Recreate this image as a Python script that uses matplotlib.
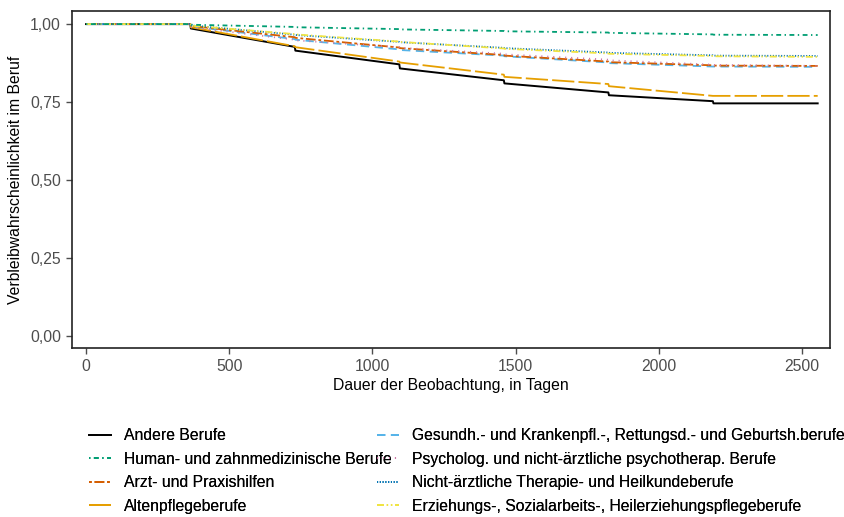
import matplotlib
matplotlib.use("Agg")
from matplotlib import pyplot as plt
from matplotlib.lines import Line2D
from matplotlib.ticker import FuncFormatter

plt.rcParams['font.family'] = ['Liberation Sans', 'DejaVu Sans']
plt.rcParams['lines.scale_dashes'] = False

# Tage (Stuetzstellen, Spruenge an Jahresgrenzen)
tage = [0, 364, 366, 729, 731, 1094, 1096, 1459, 1461, 1824, 1826, 2189, 2191, 2555]

andere = [1.0, 1.0, 0.986, 0.927, 0.915, 0.871, 0.858, 0.820, 0.810, 0.781, 0.772, 0.753, 0.746, 0.746]
human = [1.0, 1.0, 0.998, 0.991, 0.990, 0.984, 0.983, 0.978, 0.977, 0.973, 0.972, 0.967, 0.966, 0.965]
arzt = [1.0, 1.0, 0.994, 0.958, 0.956, 0.925, 0.923, 0.901, 0.899, 0.880, 0.878, 0.868, 0.867, 0.866]
alten = [1.0, 1.0, 0.990, 0.929, 0.926, 0.880, 0.877, 0.838, 0.831, 0.808, 0.801, 0.770, 0.770, 0.770]
gesundh = [1.0, 1.0, 0.993, 0.952, 0.950, 0.919, 0.917, 0.899, 0.897, 0.877, 0.875, 0.864, 0.864, 0.863]
psycho = [1.0, 1.0, 0.990, 0.950, 0.948, 0.926, 0.924, 0.905, 0.903, 0.886, 0.884, 0.870, 0.869, 0.866]
therapie = [1.0, 1.0, 0.996, 0.966, 0.965, 0.943, 0.942, 0.924, 0.923, 0.909, 0.908, 0.900, 0.899, 0.898]
erzieh = [1.0, 1.0, 0.995, 0.968, 0.967, 0.944, 0.943, 0.922, 0.921, 0.906, 0.905, 0.898, 0.897, 0.895]

namen = ["Andere Berufe", "Human- und zahnmedizinische Berufe", "Arzt- und Praxishilfen",
         "Altenpflegeberufe", "Gesundh.- und Krankenpfl.-, Rettungsd.- und Geburtsh.berufe",
         "Psycholog. und nicht-ärztliche psychotherap. Berufe",
         "Nicht-ärztliche Therapie- und Heilkundeberufe",
         "Erziehungs-, Sozialarbeits-, Heilerziehungspflegeberufe"]
werte = [andere, human, arzt, alten, gesundh, psycho, therapie, erzieh]
farben = ["#000000", "#009E73", "#D55E00", "#E69F00", "#56B4E9", "#CC79A7", "#0072B2", "#F0E442"]
stile = ["-", (0, (1, 2.5, 3.5, 2.5)), (0, (2, 2, 7, 2)), (0, (16, 3)),
         (0, (6, 4)), (0, (0.8, 3.5)), (0, (0.8, 1.2)), (0, (5, 2, 1, 2, 1, 2))]

fs = 11.3

fig = plt.figure(figsize=(8.44, 5.17), dpi=100)
ax = fig.add_axes([72 / 844, 1 - 348 / 517, (830 - 72) / 844, (348 - 11) / 517])

# von hinten nach vorne zeichnen
for i in [0, 3, 4, 2, 5, 6, 7, 1]:
    ax.plot(tage, werte[i], color=farben[i], linestyle=stile[i], lw=1.4 if i == 0 else 1.3)

ax.set_xlim(-49, 2598)
ax.set_ylim(-0.038, 1.042)
ax.set_xticks([0, 500, 1000, 1500, 2000, 2500])
ax.set_yticks([0, 0.25, 0.5, 0.75, 1.0])
ax.yaxis.set_major_formatter(FuncFormatter(lambda v, p: f"{v:.2f}".replace(".", ",")))
ax.tick_params(axis="both", labelsize=fs, colors="#4D4D4D", length=4, width=1, pad=4)
for s in ax.spines.values():
    s.set_linewidth(1.2)
    s.set_color("#222222")

ax.set_xlabel("Dauer der Beobachtung, in Tagen", fontsize=fs, labelpad=3)
ax.set_ylabel("Verbleibwahrscheinlichkeit im Beruf", fontsize=fs, labelpad=5)

griffe = [Line2D([], [], color=farben[i], linestyle=stile[i], lw=1.3) for i in range(8)]
for spalte, x0 in [(range(0, 4), 89 / 844), (range(4, 8), 377 / 844)]:
    leg = fig.legend([griffe[i] for i in spalte], [namen[i] for i in spalte],
                     loc="upper left", bbox_to_anchor=(x0, 1 - 428 / 517), ncol=1,
                     frameon=False, fontsize=fs, handlelength=1.4, handletextpad=0.83,
                     labelspacing=0.55, borderaxespad=0, borderpad=0)
    fig.add_artist(leg)

fig.savefig("out.png", dpi=100)
